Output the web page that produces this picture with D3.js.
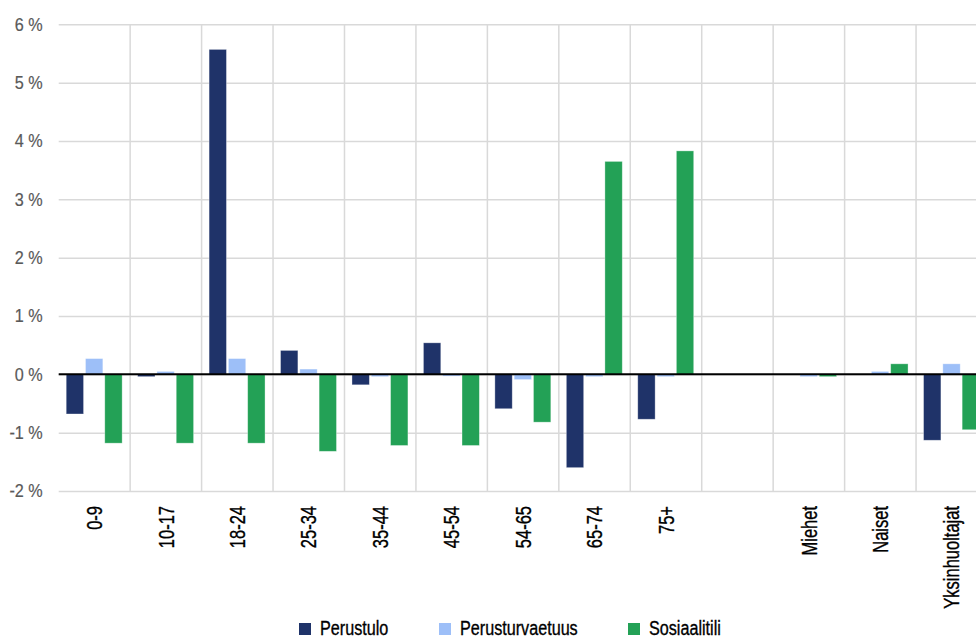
<!DOCTYPE html>
<html>
<head>
<meta charset="utf-8">
<script src="https://cdn.jsdelivr.net/npm/d3@7"></script>
<style>
  html, body { margin: 0; padding: 0; background: #fff; }
  svg { display: block; }
  text { font-family: "Liberation Sans", Arial, sans-serif; }
</style>
</head>
<body>
<svg id="chart" width="976" height="639"></svg>
<script>
// Categories (an empty slot separates the age groups from the household groups)
const categories = ["0-9", "10-17", "18-24", "25-34", "35-44", "45-54", "54-65", "65-74", "75+", "", "Miehet", "Naiset", "Yksinhuoltajat"];
const seriesNames = ["Perustulo", "Perusturvaetuus", "Sosiaalitili"];
const seriesColors = ["#1f3369", "#9dbff8", "#23a156"];

// Change in percent for each category
const perustulo       = [-0.68, -0.04, 5.57, 0.41, -0.18, 0.54, -0.59, -1.60, -0.77, null, 0.00, 0.00, -1.13];
const perusturvaetuus = [ 0.27,  0.05, 0.27, 0.09, -0.04, -0.03, -0.09, -0.04, -0.04, null, -0.04, 0.05, 0.18];
const sosiaalitili    = [-1.18, -1.18, -1.18, -1.32, -1.22, -1.22, -0.82, 3.65, 3.83, null, -0.04, 0.18, -0.95];

const yTicks = [-2, -1, 0, 1, 2, 3, 4, 5, 6];

const seriesValues = [perustulo, perusturvaetuus, sosiaalitili];

const svg = d3.select("#chart");

const x0 = d3.scaleBand().domain(categories.map((c, i) => i)).range([58.7, 987.5]).paddingInner(0).paddingOuter(0);
const x1 = d3.scaleBand().domain(seriesNames).range([7.5, x0.bandwidth() - 8]).paddingInner(0.1);
const y = d3.scaleLinear().domain([-2, 6]).range([491, 24.3]);

// Horizontal gridlines
const yAxis = d3.axisLeft(y).tickValues(yTicks).tickSize(-(987.5 - 58.7)).tickFormat(d => d + " %");
const gy = svg.append("g").attr("transform", "translate(58.7,0)").call(yAxis);
gy.select(".domain").remove();
gy.selectAll(".tick line").attr("stroke", "#d9d9d9").attr("stroke-width", 1.5);
gy.selectAll(".tick text")
  .attr("x", 0)
  .attr("transform", "translate(-16,0) scale(0.9,1)")
  .attr("fill", "#595959")
  .attr("stroke", "#595959")
  .attr("stroke-width", 0.2)
  .style("font-size", "18px");

// Vertical separators between categories
const sepData = categories.slice(1).map((c, i) => i + 1);
svg.append("g").selectAll("line").data(sepData).join("line")
  .attr("x1", d => x0(d)).attr("x2", d => x0(d))
  .attr("y1", y(6)).attr("y2", y(-2))
  .attr("stroke", "#d9d9d9").attr("stroke-width", 1.5);

// Bars
const rows = categories.map((c, i) => ({
  i,
  values: seriesNames.map((s, k) => ({ key: s, k, v: seriesValues[k][i] }))
}));

const groups = svg.append("g").selectAll("g").data(rows).join("g")
  .attr("transform", d => `translate(${x0(d.i)},0)`);

groups.selectAll("rect")
  .data(d => d.values.filter(e => e.v !== null && e.v !== 0))
  .join("rect")
  .attr("x", d => x1(d.key))
  .attr("width", x1.bandwidth())
  .attr("y", d => y(Math.max(0, d.v)))
  .attr("height", d => Math.abs(y(d.v) - y(0)))
  .attr("fill", d => seriesColors[d.k])
  .attr("stroke", "rgba(255,255,255,0.45)")
  .attr("stroke-width", 0.75);

// Zero line
svg.append("line")
  .attr("x1", 58.7).attr("x2", 987.5)
  .attr("y1", y(0)).attr("y2", y(0))
  .attr("stroke", "#000").attr("stroke-width", 2);

// Category labels, rotated and condensed
const xAxis = d3.axisBottom(x0).tickSize(0).tickFormat(i => categories[i]);
const gx = svg.append("g").attr("transform", `translate(0,${y(-2)})`).call(xAxis);
gx.select(".domain").remove();
gx.selectAll(".tick text")
  .attr("transform", "rotate(-90) translate(-15,0) scale(0.75,1)")
  .attr("x", 0)
  .attr("y", 0)
  .attr("dy", "0.35em")
  .attr("text-anchor", "end")
  .attr("fill", "#000")
  .attr("stroke", "#000")
  .attr("stroke-width", 0.35)
  .style("font-size", "22px");

// Legend
const legendX = [299, 439, 628];
const legend = svg.append("g").selectAll("g").data(seriesNames).join("g")
  .attr("transform", (d, i) => `translate(${legendX[i]},0)`);
legend.append("rect")
  .attr("x", 0).attr("y", 623).attr("width", 12).attr("height", 12)
  .attr("fill", (d, i) => seriesColors[i]);
legend.append("text")
  .attr("transform", "translate(21,635) scale(0.77,1)")
  .attr("fill", "#000")
  .attr("stroke", "#000")
  .attr("stroke-width", 0.35)
  .style("font-size", "21px")
  .text(d => d);
</script>
</body>
</html>
